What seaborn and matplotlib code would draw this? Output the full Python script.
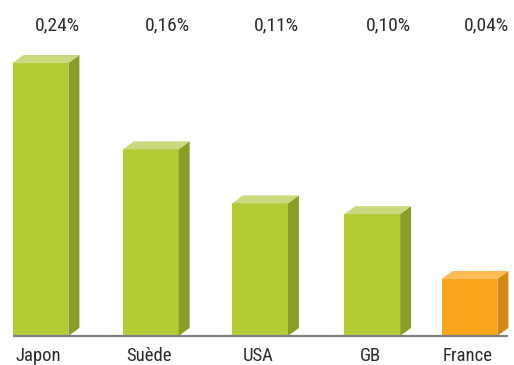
import matplotlib
matplotlib.use("Agg")
import matplotlib.pyplot as plt
from matplotlib.patches import Polygon
import seaborn as sns
import pandas as pd

# Data
countries = ["Japon", "Suède", "USA", "GB", "France"]
values = [0.24, 0.16, 0.11, 0.10, 0.04]
labels = ["0,24%", "0,16%", "0,11%", "0,10%", "0,04%"]

# Colours: front, side, top faces
green = ("#B3CB35", "#8A9E27", "#C9D97E")
orange = ("#F8A51C", "#D48914", "#FDBA55")
face_sets = [green, green, green, green, orange]

# small horizontal nudges of each bar slot (axis units)
slot_shift = [0.0, 0.028, 0.047, 0.093, 0.0]

sns.set_theme(style="white")
plt.rcParams["font.family"] = ["Roboto Condensed", "Liberation Sans Narrow",
                               "Roboto", "DejaVu Sans"]

fig = plt.figure(figsize=(5.14, 3.65), dpi=100)
ax = fig.add_axes([0, 0, 1, 1])

df = pd.DataFrame({"country": countries, "value": values})
sns.barplot(data=df, x="country", y="value", hue="country",
            palette=[f[0] for f in face_sets], width=0.52,
            legend=False, ax=ax, linewidth=0, saturation=1)

base = -0.0128           # floor level of the chart
dx, dy = 0.1026, 0.0074  # depth of the extruded faces

ax.set_xlim(-0.378, 4.415)
ax.set_ylim(-0.0397, 0.2983)

bars = sorted(ax.patches, key=lambda p: p.get_x())
for patch, v, faces, lab, name, sh in zip(bars, values, face_sets, labels,
                                          countries, slot_shift):
    patch.set_x(patch.get_x() + sh)
    patch.set_y(base)
    patch.set_height(v - base)
    x0 = patch.get_x()
    x1 = x0 + patch.get_width()
    xc = (x0 + x1) / 2
    # side face
    ax.add_patch(Polygon([(x1, base), (x1 + dx, base + dy),
                          (x1 + dx, v + dy), (x1, v)],
                         closed=True, facecolor=faces[1], edgecolor="none"))
    # top face
    ax.add_patch(Polygon([(x0, v), (x1, v), (x1 + dx, v + dy), (x0 + dx, v + dy)],
                         closed=True, facecolor=faces[2], edgecolor="none"))
    # value label above the plot
    ax.text(xc + 0.155, 0.2745, lab, ha="center", va="center",
            fontsize=14, color="#2b2b2b")
    # category label below the floor
    ax.text(xc - 0.02, -0.0313, name, ha="center", va="center",
            fontsize=13.5, color="#2b2b2b")

# floor line
first = bars[0].get_x()
last = bars[-1].get_x() + bars[-1].get_width() + dx
ax.plot([first, last], [base, base], color="#808080", linewidth=1.6,
        solid_capstyle="butt", zorder=1)

ax.set_axis_off()
fig.savefig("out.png", dpi=100)
